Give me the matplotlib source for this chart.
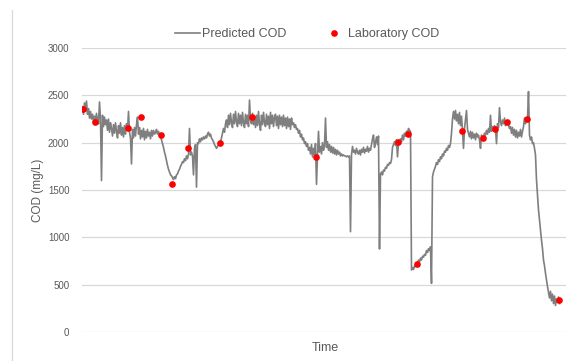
import numpy as np
import matplotlib
matplotlib.use("Agg")
import matplotlib.pyplot as plt
from matplotlib.lines import Line2D

plt.rcParams['font.family'] = ['Liberation Sans', 'DejaVu Sans']

# Predicted COD (mg/L), one value per time step
pred_cod = [
    2380, 2300, 2420, 2330, 2440, 2300, 2360, 2260, 2330, 2250,
    2300, 2220, 2280, 2230, 2310, 2240, 2200, 2430, 2250, 1600,
    2290, 2170, 2270, 2190, 2240, 2130, 2250, 2110, 2210, 2150,
    2070, 2190, 2100, 2210, 2120, 2050, 2180, 2100, 2210, 2080,
    2160, 2060, 2180, 2090, 2200, 2130, 2330, 2110, 2050, 1775,
    2140, 2050, 2160, 2070, 2190, 2270, 2090, 2160, 2040, 2130,
    2060, 2150, 2030, 2120, 2050, 2140, 2070, 2110, 2040, 2130,
    2070, 2130, 2090, 2110, 2140, 2090, 2120, 2080, 2070, 2030,
    1990, 1950, 1900, 1860, 1810, 1760, 1720, 1690, 1660, 1650,
    1630, 1610, 1640, 1620, 1660, 1670, 1700, 1720, 1750, 1770,
    1800, 1790, 1830, 1810, 1860, 1830, 1880, 2150, 1870, 1900,
    1860, 1660, 1940, 1980, 1530, 2000, 1990, 2040, 2010, 2050,
    2030, 2060, 2040, 2070, 2050, 2090, 2110, 2070, 2090, 2050,
    2030, 2010, 1980, 1960, 1940, 1960, 1980, 1990, 2010, 2050,
    2100, 2150, 2110, 2200, 2240, 2160, 2290, 2190, 2310, 2210,
    2160, 2300, 2200, 2330, 2220, 2170, 2310, 2200, 2290, 2180,
    2320, 2210, 2160, 2300, 2200, 2290, 2170, 2450, 2240, 2200,
    2310, 2190, 2280, 2160, 2290, 2180, 2330, 2200, 2130, 2290,
    2190, 2320, 2210, 2170, 2300, 2190, 2280, 2150, 2320, 2200,
    2290, 2170, 2270, 2300, 2180, 2280, 2150, 2290, 2190, 2270,
    2170, 2290, 2180, 2260, 2150, 2270, 2170, 2250, 2140, 2260,
    2190, 2210, 2160, 2190, 2140, 2150, 2100, 2130, 2060, 2090,
    2030, 2050, 1990, 2010, 1960, 1990, 1920, 1950, 1880, 1980,
    1850, 1940, 1870, 1990, 1560, 1870, 2120, 1900, 1960, 1880,
    2000, 1920, 1970, 2260, 1950, 2010, 1920, 1980, 1900, 1960,
    1890, 1950, 1880, 1930, 1870, 1920, 1880, 1900, 1860, 1880,
    1860, 1870, 1860, 1860, 1850, 1860, 1850, 1860, 1060, 1870,
    1960, 1900, 1920, 1880, 1940, 1900, 1880, 1920, 1870, 1930,
    1900, 1950, 1890, 1930, 1910, 1960, 1900, 1940, 1920, 1980,
    2040, 2080, 1950, 2000, 2060, 1980, 2070, 877, 1670, 1690,
    1660, 1710, 1700, 1740, 1730, 1770, 1760, 1790, 1780, 1820,
    1950, 1980, 2010, 1970, 2030, 1850, 2000, 1990, 2040, 2010,
    2080, 2030, 2100, 2070, 2120, 2100, 2150, 2130, 2120, 655,
    680, 660, 700, 690, 730, 710, 760, 740, 780, 760,
    800, 790, 820, 810, 860, 840, 880, 860, 900, 514,
    1640, 1690, 1720, 1750, 1790, 1770, 1820, 1800, 1850, 1830,
    1880, 1860, 1910, 1900, 1940, 1920, 1970, 1950, 1990, 2100,
    2250, 2330, 2250, 2340, 2230, 2300, 2200, 2320, 2180, 2280,
    2130, 1940, 2150, 2250, 2340, 2140, 2100, 2060, 2120, 2040,
    2110, 2050, 2090, 2030, 2100, 2060, 2080, 2030, 1940, 2080,
    2050, 2040, 2100, 2080, 2130, 2090, 2150, 2110, 2290, 2120,
    2170, 2130, 2180, 2150, 1990, 2200, 2160, 2370, 2220, 2180,
    2240, 2200, 2260, 2180, 2230, 2220, 2190, 2150, 2170, 2100,
    2160, 2080, 2140, 2060, 2130, 2050, 2110, 2070, 2140, 2060,
    2120, 2170, 2260, 2200, 2240, 2250, 2540, 2080, 2030, 2060,
    1990, 2000, 1940, 1870, 1605, 1450, 1290, 1180, 1080, 970,
    880, 760, 700, 620, 550, 480, 420, 360, 430, 330,
    400, 300, 380, 280, 350, 310, 370, 300,
]
pred_time = list(range(len(pred_cod)))

# Laboratory COD samples (time step, mg/L)
lab_time = [0, 12, 45, 58, 78, 89, 106, 138, 170, 234, 316, 326, 335, 380, 401, 413, 425, 445, 477]
lab_cod = [2355, 2218, 2158, 2274, 2078, 1563, 1947, 1993, 2268, 1848, 2004, 2095, 715,
           2127, 2046, 2141, 2215, 2253, 338]

y_ticks = [0, 500, 1000, 1500, 2000, 2500, 3000]
y_ticklabels = ['0', '500', '1000', '1500', '2000', '2500', '3000']

W, H = 585, 361
fig = plt.figure(figsize=(W / 100, H / 100), dpi=100)
ax = fig.add_axes([82 / W, (H - 332) / H, (566 - 82) / W, (332 - 48) / H])

text_col = '#595959'
ax.plot(pred_time, pred_cod, color='#7f7f7f', lw=1.2, label='Predicted COD', zorder=3)
ax.plot(lab_time, lab_cod, 'o', color='#ff0000', ms=4.8, mew=0, label='Laboratory COD', zorder=4)

ax.set_xlim(-0.5, 483.5)
ax.set_ylim(0, 3000)
ax.set_yticks(y_ticks)
ax.set_yticklabels(y_ticklabels)
ax.set_xticks([])
ax.grid(axis='y', color='#d9d9d9', lw=0.9, zorder=0)
ax.set_axisbelow(True)
for s in ax.spines.values():
    s.set_visible(False)
ax.tick_params(axis='y', length=0, pad=9, labelsize=7, labelcolor=text_col)

fig.text(38 / W, 1 - 190 / H, 'COD (mg/L)', rotation=90, ha='center', va='center',
         fontsize=8.5, color=text_col)
fig.text(325 / W, 1 - 348 / H, 'Time', ha='center', va='center', fontsize=9, color=text_col)

leg = fig.legend(loc='center', bbox_to_anchor=(307 / W, 1 - 34 / H), ncol=2, frameon=False,
                 fontsize=9, handlelength=2.0, handletextpad=0.15, columnspacing=2.8,
                 labelcolor=text_col)

# left border fragment
fig.add_artist(Line2D([12 / W, 12 / W], [0, 1 - 10 / H], transform=fig.transFigure,
                      color='#d9d9d9', lw=0.9))

fig.savefig('out.png', dpi=100)
